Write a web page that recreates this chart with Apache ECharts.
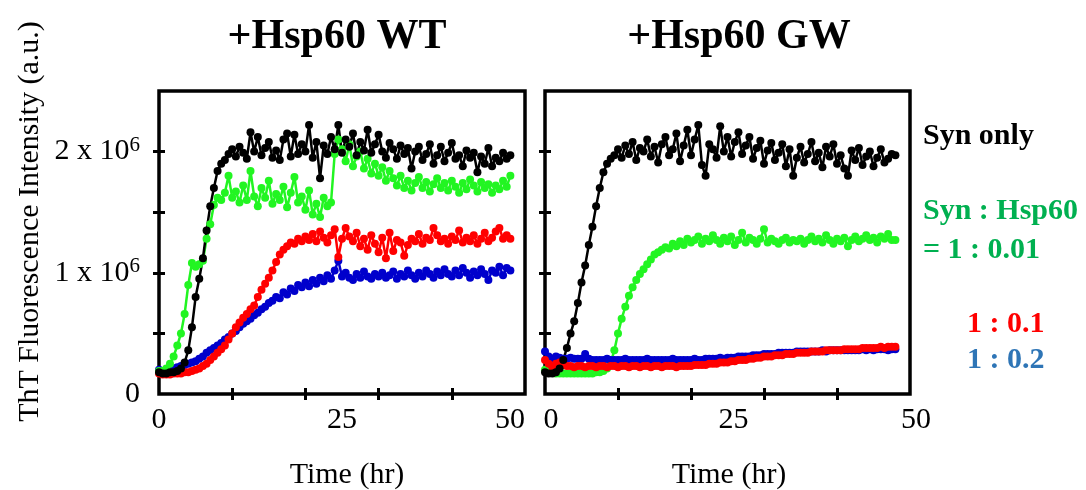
<!DOCTYPE html>
<html><head><meta charset="utf-8">
<script src="https://cdn.jsdelivr.net/npm/echarts@6/dist/echarts.min.js"></script>
<style>html,body{margin:0;padding:0;background:#fff}#c{width:1086px;height:490px}</style>
</head><body><div id="c"></div>
<script>
// time points (hr)
const times = [0,0.5,1,1.5,2,2.5,3,3.5,4,4.5,5,5.5,6,6.5,7,7.5,8,8.5,9,9.5,10,10.5,11,11.5,12,12.5,13,13.5,14,14.5,15,15.5,16,16.5,17,17.5,18,18.5,19,19.5,20,20.5,21,21.5,22,22.5,23,23.5,24,24.5,25,25.5,26,26.5,27,27.5,28,28.5,29,29.5,30,30.5,31,31.5,32,32.5,33,33.5,34,34.5,35,35.5,36,36.5,37,37.5,38,38.5,39,39.5,40,40.5,41,41.5,42,42.5,43,43.5,44,44.5,45,45.5,46,46.5,47,47.5,48];

// ThT intensity, units of 10^6 a.u. — left panel (+Hsp60 WT)
const wtBlack = [0.18,0.17,0.17,0.18,0.18,0.19,0.21,0.26,0.36,0.55,
0.80,0.95,1.12,1.35,1.55,1.70,1.84,1.90,1.93,1.98,
2.02,1.96,2.04,1.99,1.94,2.16,2.00,2.12,1.97,2.03,
2.08,1.95,2.01,1.93,2.10,2.15,1.96,2.14,1.98,2.06,
2.00,2.22,1.95,2.08,1.78,2.05,1.98,2.12,2.02,2.22,
1.99,2.10,2.04,2.15,1.97,2.08,2.01,2.18,1.99,2.06,
2.14,2.00,1.95,2.07,2.02,1.94,2.05,1.98,2.03,1.86,
2.00,2.04,1.93,1.98,2.06,1.90,1.97,2.04,1.92,1.99,
2.07,1.94,1.97,1.88,2.01,1.95,1.99,1.83,1.96,1.90,
2.03,1.88,1.95,1.92,1.99,1.94,1.97];
const wtGreen = [0.19,0.19,0.21,0.25,0.31,0.40,0.50,0.66,0.90,1.08,
1.05,1.07,1.10,1.28,1.40,1.56,1.62,1.60,1.66,1.80,
1.62,1.67,1.58,1.72,1.60,1.84,1.63,1.55,1.70,1.62,
1.76,1.57,1.65,1.60,1.71,1.54,1.66,1.79,1.58,1.63,
1.52,1.68,1.48,1.57,1.46,1.62,1.55,1.58,1.98,2.10,
2.02,1.92,2.06,1.88,1.96,2.00,1.86,1.94,1.82,1.90,
1.80,1.87,1.76,1.84,1.78,1.72,1.80,1.70,1.76,1.68,
1.74,1.79,1.70,1.75,1.67,1.73,1.78,1.70,1.74,1.68,
1.76,1.71,1.66,1.74,1.69,1.77,1.72,1.67,1.75,1.70,
1.73,1.66,1.72,1.69,1.76,1.71,1.80];
const wtRed = [0.17,0.16,0.16,0.16,0.17,0.17,0.17,0.18,0.18,0.19,
0.20,0.21,0.23,0.25,0.28,0.31,0.34,0.37,0.40,0.45,
0.50,0.55,0.59,0.63,0.66,0.70,0.73,0.80,0.86,0.91,
0.96,1.02,1.09,1.15,1.19,1.22,1.25,1.24,1.28,1.26,
1.30,1.27,1.32,1.26,1.34,1.29,1.25,1.31,1.36,1.13,
1.28,1.37,1.30,1.26,1.33,1.22,1.28,1.19,1.31,1.24,
1.17,1.29,1.12,1.33,1.18,1.27,1.25,1.14,1.23,1.28,
1.26,1.32,1.24,1.29,1.27,1.37,1.31,1.26,1.28,1.24,
1.30,1.27,1.35,1.25,1.29,1.26,1.31,1.24,1.28,1.33,
1.26,1.29,1.34,1.37,1.28,1.31,1.28];
const wtBlue = [0.20,0.19,0.19,0.20,0.21,0.22,0.23,0.24,0.25,0.26,
0.27,0.29,0.31,0.34,0.36,0.38,0.40,0.42,0.45,0.47,
0.50,0.52,0.55,0.58,0.60,0.62,0.65,0.67,0.70,0.72,
0.75,0.77,0.80,0.79,0.84,0.82,0.87,0.85,0.90,0.88,
0.92,0.89,0.94,0.91,0.96,0.93,0.98,0.95,1.02,1.10,
0.97,1.00,0.96,0.94,0.99,0.96,1.01,0.97,0.95,0.99,
0.97,1.00,0.96,0.98,1.01,0.95,0.99,0.97,1.02,0.98,
0.95,1.00,0.97,1.02,0.99,0.96,1.01,0.98,1.03,0.99,
0.97,1.02,0.98,1.04,1.00,0.96,1.01,0.98,1.03,0.99,
0.94,1.02,1.00,1.05,0.98,1.04,1.02];

// right panel (+Hsp60 GW)
const gwBlack = [0.18,0.17,0.17,0.18,0.21,0.28,0.38,0.50,0.60,0.75,
0.92,1.06,1.23,1.38,1.55,1.70,1.83,1.90,1.94,1.97,
2.02,1.95,2.05,1.98,2.08,1.93,2.03,2.00,2.10,1.96,
2.04,1.91,2.06,2.12,1.97,2.02,2.15,1.92,2.05,2.18,
1.97,2.10,2.22,1.89,1.80,2.06,2.02,1.95,2.21,2.00,
2.12,1.96,2.08,2.16,1.98,2.05,2.12,1.94,2.03,2.09,
1.90,2.01,2.07,1.93,1.99,2.06,1.88,2.02,1.80,1.95,
2.04,1.91,1.98,2.08,1.92,1.99,1.87,2.04,1.96,2.06,
1.90,1.97,1.86,1.80,2.01,1.93,2.03,1.89,1.96,2.00,
1.88,1.95,2.02,1.91,1.94,1.98,1.97];
const gwGreen = [0.20,0.19,0.18,0.17,0.17,0.17,0.17,0.17,0.17,0.17,
0.17,0.17,0.17,0.17,0.18,0.18,0.19,0.21,0.26,0.36,
0.50,0.62,0.72,0.81,0.88,0.94,0.99,1.03,1.07,1.11,
1.15,1.17,1.19,1.21,1.20,1.24,1.22,1.26,1.23,1.28,
1.25,1.27,1.30,1.24,1.28,1.26,1.31,1.27,1.24,1.29,
1.26,1.30,1.23,1.27,1.33,1.25,1.29,1.27,1.24,1.28,
1.36,1.25,1.28,1.26,1.24,1.27,1.29,1.25,1.27,1.26,
1.28,1.24,1.27,1.30,1.26,1.28,1.25,1.31,1.27,1.24,
1.28,1.26,1.29,1.22,1.27,1.30,1.26,1.28,1.31,1.27,
1.29,1.25,1.30,1.28,1.32,1.27,1.27];
const gwRed = [0.28,0.25,0.22,0.25,0.26,0.24,0.23,0.23,0.22,0.23,
0.23,0.22,0.23,0.23,0.22,0.23,0.23,0.22,0.23,0.23,
0.22,0.23,0.23,0.22,0.23,0.23,0.22,0.23,0.23,0.22,
0.23,0.23,0.22,0.23,0.23,0.23,0.22,0.23,0.23,0.23,
0.23,0.24,0.24,0.24,0.24,0.25,0.25,0.25,0.26,0.26,
0.26,0.27,0.27,0.28,0.28,0.28,0.29,0.29,0.30,0.30,
0.31,0.31,0.31,0.32,0.32,0.32,0.33,0.33,0.33,0.34,
0.34,0.34,0.34,0.35,0.35,0.35,0.35,0.36,0.36,0.36,
0.36,0.36,0.37,0.37,0.37,0.37,0.37,0.38,0.38,0.38,
0.38,0.38,0.39,0.38,0.39,0.39,0.39];
const gwBlue = [0.35,0.31,0.29,0.31,0.30,0.29,0.29,0.30,0.29,0.29,
0.29,0.33,0.29,0.28,0.28,0.28,0.28,0.29,0.28,0.28,
0.28,0.28,0.29,0.28,0.28,0.28,0.28,0.28,0.29,0.28,
0.28,0.28,0.28,0.28,0.28,0.29,0.28,0.28,0.28,0.28,
0.28,0.29,0.28,0.28,0.29,0.29,0.29,0.29,0.30,0.29,
0.30,0.30,0.30,0.31,0.31,0.31,0.31,0.32,0.32,0.32,
0.33,0.33,0.33,0.33,0.34,0.34,0.34,0.34,0.34,0.35,
0.35,0.35,0.35,0.35,0.35,0.35,0.36,0.35,0.36,0.36,
0.36,0.36,0.36,0.36,0.36,0.36,0.36,0.37,0.36,0.37,
0.36,0.37,0.37,0.37,0.36,0.37,0.37];

const xTickLabels = [0, 25, 50];
const xMinorTicks = [10, 20, 30, 40];
const yTickLabels = [0, 1, 2];          // x 10^6
const yTicks = [0.5, 1, 1.5, 2];        // x 10^6
const panelTitles = ['+Hsp60 WT', '+Hsp60 GW'];
const legendTexts = ['Syn only', 'Syn : Hsp60', '= 1 : 0.01', '1 : 0.1', '1 : 0.2'];
const xName = 'Time (hr)';
const yName = 'ThT Fluorescence Intensity (a.u.)';

const FONT = "'Liberation Serif','Times New Roman',serif";
const SCALE = 1e6;
const C = {black:'#000000', green:'#22f522', red:'#ff0000', blue:'#0000cc'};

const grids = [
  {left:159, top:91, width:366, height:303, show:true, borderColor:'#000', borderWidth:3.5,
   backgroundColor:'transparent', containLabel:false, outerBoundsMode:'none'},
  {left:545, top:91, width:365, height:303, show:true, borderColor:'#000', borderWidth:3.5,
   backgroundColor:'transparent', containLabel:false, outerBoundsMode:'none'}
];

const tickStyle = {show:true, inside:true, length:6, lineStyle:{color:'#000', width:3}};

function xAxes(g){
  return [
    {type:'value', gridIndex:g, min:0, max:50, position:'bottom',
     axisLine:{show:false}, splitLine:{show:false},
     axisTick:Object.assign({customValues:xMinorTicks}, tickStyle),
     axisLabel:{customValues:xTickLabels, fontFamily:FONT, fontSize:30, color:'#000', margin:11,
       alignMaxLabel: g===0 ? 'right' : null, padding: g===0 ? 0 : [0,0,0,12]},
     name:xName, nameLocation:'middle', nameGap:66,
     nameTextStyle:{fontFamily:FONT, fontSize:30, color:'#000', padding: g===0 ? [0,0,0,10] : [0,0,0,3]}},
    {type:'value', gridIndex:g, min:0, max:50, position:'top',
     axisLine:{show:false}, splitLine:{show:false},
     axisTick:Object.assign({customValues:xMinorTicks}, tickStyle),
     axisLabel:{show:false}}
  ];
}
function yAxes(g){
  const left = {type:'value', gridIndex:g, min:0, max:2.5*SCALE, position:'left',
     axisLine:{show:false}, splitLine:{show:false},
     axisTick:Object.assign({customValues:yTicks.map(v=>v*SCALE)}, tickStyle),
     axisLabel:{show: g===0, customValues:yTickLabels.map(v=>v*SCALE), margin:19,
       formatter: v => v===0 ? '{a|0}' : '{a|' + (v/SCALE) + ' x 10}{s|6}',
       rich:{a:{fontFamily:FONT, fontSize:30, color:'#000', lineHeight:34},
             s:{fontFamily:FONT, fontSize:21, color:'#000', lineHeight:22, verticalAlign:'top'}}}};
  if (g===0){
    left.name = yName; left.nameLocation = 'middle'; left.nameRotate = 90; left.nameGap = 114;
    left.nameTextStyle = {fontFamily:FONT, fontSize:30, color:'#000', padding:[0,0,0,42]};
  }
  return [left,
    {type:'value', gridIndex:g, min:0, max:2.5*SCALE, position:'right',
     axisLine:{show:false}, splitLine:{show:false},
     axisTick:Object.assign({customValues:yTicks.map(v=>v*SCALE)}, tickStyle),
     axisLabel:{show:false}}];
}

function mk(arr, color, axisIdx, name){
  return {type:'line', name:name, xAxisIndex:axisIdx, yAxisIndex:axisIdx,
    data: times.map((t,i)=>[t, arr[i]*SCALE]),
    symbol:'circle', symbolSize:8, showSymbol:true,
    lineStyle:{color:color, width:2.5}, itemStyle:{color:color, borderWidth:0},
    emphasis:{disabled:true}, animation:false};
}

const series = [
  mk(wtBlue, C.blue, 0, 'WT 1:0.2'), mk(wtRed, C.red, 0, 'WT 1:0.1'),
  mk(wtGreen, C.green, 0, 'WT 1:0.01'), mk(wtBlack, C.black, 0, 'WT Syn only'),
  mk(gwGreen, C.green, 2, 'GW 1:0.01'), mk(gwBlue, C.blue, 2, 'GW 1:0.2'),
  mk(gwRed, C.red, 2, 'GW 1:0.1'), mk(gwBlack, C.black, 2, 'GW Syn only')
];

const txt = (s, x, y, color, size, align) => ({type:'text', x:x, y:y, silent:true,
  style:{text:s, fill:color, font:'bold '+size+'px '+FONT, textAlign:align||'left', textVerticalAlign:'middle'}});

const graphic = [
  txt(panelTitles[0], 337, 37, '#000', 42, 'center'),
  txt(panelTitles[1], 739, 37, '#000', 42, 'center'),
  txt(legendTexts[0], 923, 136, '#000', 30),
  txt(legendTexts[1], 923, 211, '#00b050', 30),
  txt(legendTexts[2], 923, 250, '#00b050', 30),
  txt(legendTexts[3], 967, 324, '#ff0000', 30),
  txt(legendTexts[4], 967, 360, '#2e75b6', 30)
];

const chart = echarts.init(document.getElementById('c'), null, {renderer:'canvas'});
chart.setOption({
  backgroundColor:'#fff', animation:false,
  grid:grids,
  xAxis:[...xAxes(0), ...xAxes(1)],
  yAxis:[...yAxes(0), ...yAxes(1)],
  series:series,
  graphic:graphic
});
</script></body></html>
